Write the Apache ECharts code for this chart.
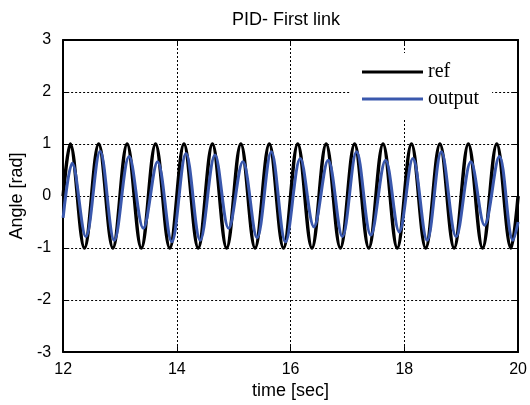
<!DOCTYPE html>
<html>
<head>
<meta charset="UTF-8">
<title>PID- First link</title>
<style>
  * { margin: 0; padding: 0; }
  html, body { background: #fff; }
  #main { width: 530px; height: 405px; }
</style>
<script src="https://cdn.jsdelivr.net/npm/echarts@6/dist/echarts.min.js"></script>
</head>
<body>
<div id="main"></div>
<script>
// reference signal: turning points (value 0 at both ends)
var refT = [12, 12.125, 12.375, 12.625, 12.875, 13.125, 13.375, 13.625, 13.875,
  14.125, 14.375, 14.625, 14.875, 15.125, 15.375, 15.625, 15.875,
  16.125, 16.375, 16.625, 16.875, 17.125, 17.375, 17.625, 17.875,
  18.125, 18.375, 18.625, 18.875, 19.125, 19.375, 19.625, 19.875, 20];
var refV = [0, 1, -1, 1, -1, 1, -1, 1, -1,
  1, -1, 1, -1, 1, -1, 1, -1,
  1, -1, 1, -1, 1, -1, 1, -1,
  1, -1, 1, -1, 1, -1, 1, -1, 0];

// system output: peaks / troughs
var outT = [12.00, 12.16, 12.40, 12.65, 12.90, 13.16, 13.41, 13.66, 13.91,
  14.16, 14.41, 14.67, 14.91, 15.16, 15.41, 15.66, 15.91,
  16.17, 16.41, 16.66, 16.91, 17.16, 17.41, 17.67, 17.91,
  18.15, 18.40, 18.65, 18.91, 19.17, 19.41, 19.67, 19.91, 20.00];
var outV = [-0.42, 0.63, -0.78, 0.86, -0.85, 0.76, -0.62, 0.66, -0.88,
  0.82, -0.85, 0.79, -0.62, 0.66, -0.80, 0.85, -0.88,
  0.72, -0.59, 0.69, -0.78, 0.85, -0.75, 0.69, -0.69,
  0.72, -0.85, 0.85, -0.78, 0.66, -0.56, 0.76, -0.85, -0.50];

function pairs(t, v) {
  var r = [];
  for (var i = 0; i < t.length; i++) r.push([t[i], v[i]]);
  return r;
}

var sans = "'Liberation Sans', Arial, sans-serif";
var gridLine = { show: true, lineStyle: { color: '#000', width: 1, type: [2, 2] } };
var frame = { show: true, onZero: false, lineStyle: { color: '#000', width: 2 } };
var tick = { show: true, inside: true, length: 6, lineStyle: { color: '#000', width: 1 } };

var myChart = echarts.init(document.getElementById('main'));
var option = {
  animation: false,
  backgroundColor: '#fff',
  title: {
    text: 'PID- First link',
    left: 232, top: 11, padding: 0,
    textStyle: { fontFamily: sans, fontSize: 18, fontWeight: 'normal', color: '#000' }
  },
  legend: {
    data: [{ name: 'ref', icon: 'rect' }, { name: 'output', icon: 'rect' }],
    orient: 'vertical',
    left: 350, top: 53,
    padding: [9, 13, 9, 12],
    itemGap: 7,
    itemWidth: 61, itemHeight: 3,
    backgroundColor: '#fff',
    textStyle: { fontFamily: "'Liberation Serif', 'Times New Roman', serif", fontSize: 20, color: '#000', lineHeight: 20 }
  },
  grid: { left: 62, right: 11, top: 40, bottom: 52, containLabel: false },
  xAxis: [{
    type: 'value', min: 12, max: 20, interval: 2,
    name: 'time [sec]', nameLocation: 'middle', nameGap: 28,
    nameTextStyle: { fontFamily: sans, fontSize: 18, color: '#000' },
    axisLine: frame, axisTick: tick, splitLine: gridLine,
    axisLabel: { margin: 9, fontFamily: sans, fontSize: 16, color: '#000' }
  }, {
    type: 'value', position: 'top', min: 12, max: 20, interval: 2,
    axisLine: frame, axisTick: tick, splitLine: { show: false },
    axisLabel: { show: false }
  }],
  yAxis: [{
    type: 'value', min: -3, max: 3, interval: 1,
    name: 'Angle [rad]', nameLocation: 'middle', nameGap: 32,
    nameTextStyle: { fontFamily: sans, fontSize: 18, color: '#000' },
    axisLine: frame, axisTick: tick, splitLine: gridLine,
    axisLabel: { margin: 12, fontFamily: sans, fontSize: 16, color: '#000' }
  }, {
    type: 'value', position: 'right', min: -3, max: 3, interval: 1,
    axisLine: frame, axisTick: tick, splitLine: { show: false },
    axisLabel: { show: false }
  }],
  series: [{
    name: 'ref', type: 'line', xAxisIndex: 0, yAxisIndex: 0,
    data: pairs(refT, refV),
    smooth: 0.36, symbol: 'none',
    color: '#000',
    lineStyle: { color: '#000', width: 3.5 }
  }, {
    name: 'output', type: 'line', xAxisIndex: 0, yAxisIndex: 0,
    data: pairs(outT, outV),
    smooth: 0.36, symbol: 'none',
    color: '#3a58ad',
    lineStyle: { color: '#3a58ad', width: 3 }
  }]
};
myChart.setOption(option);
</script>
</body>
</html>
